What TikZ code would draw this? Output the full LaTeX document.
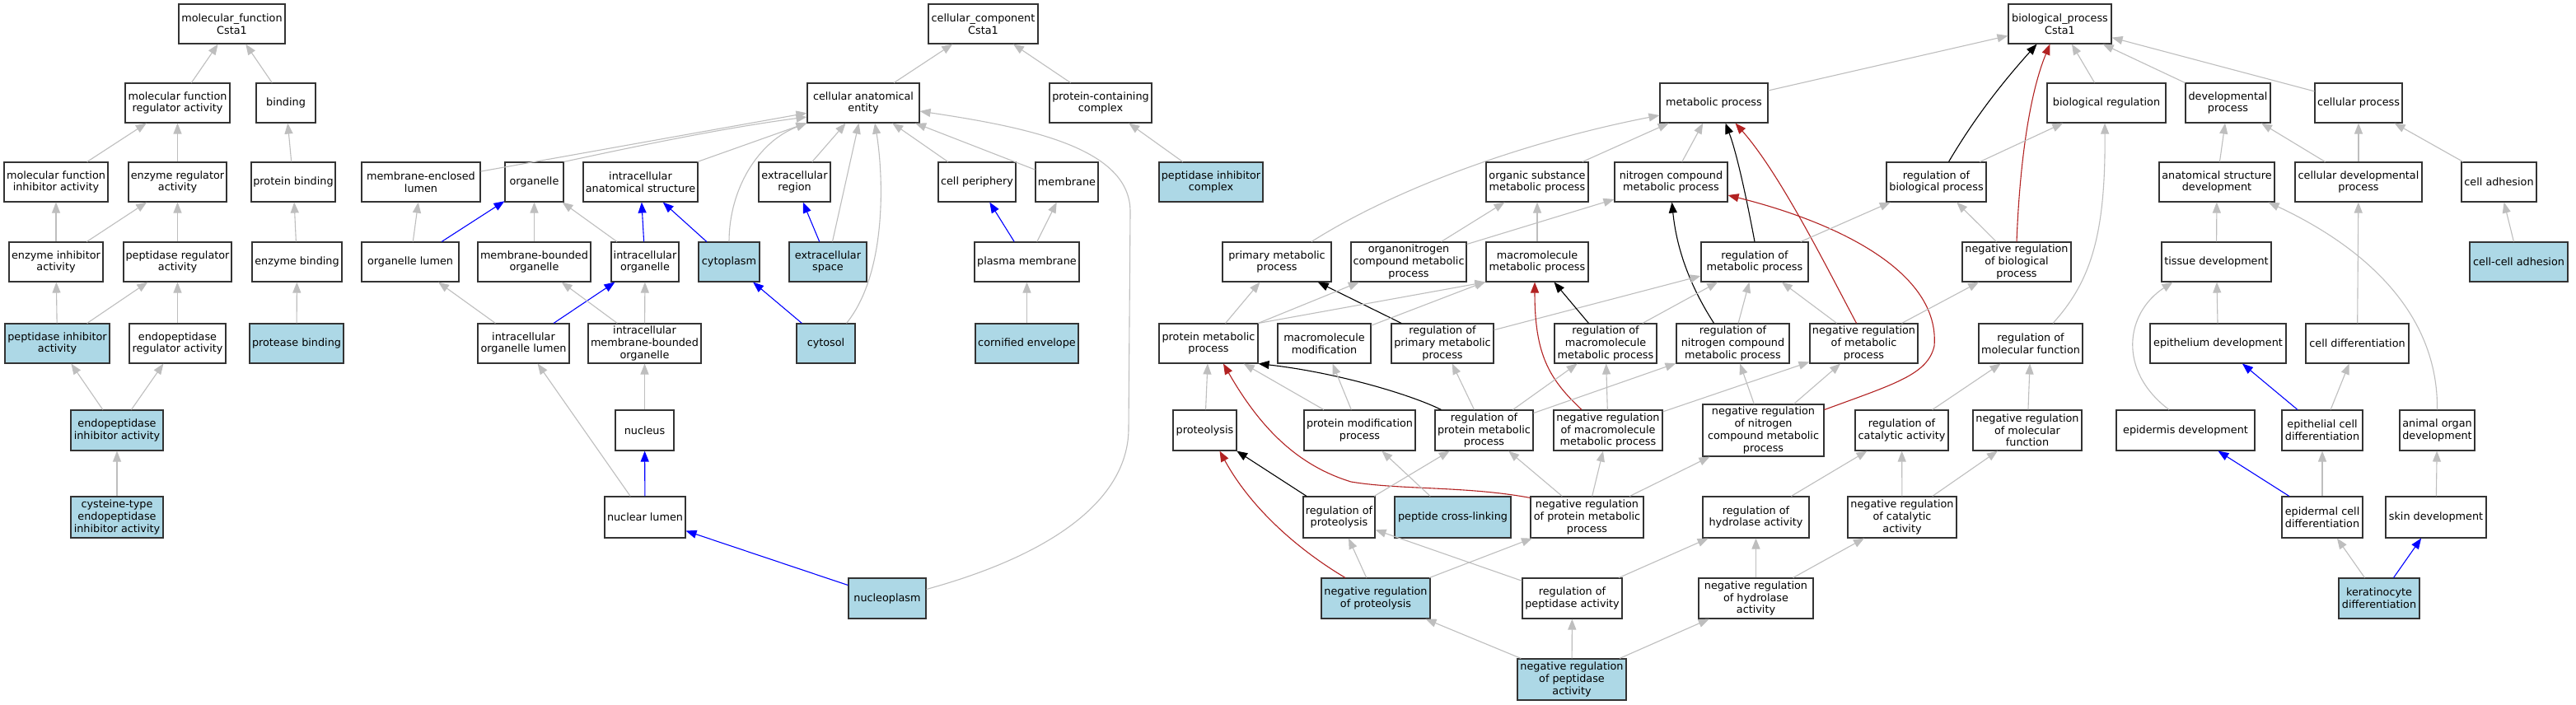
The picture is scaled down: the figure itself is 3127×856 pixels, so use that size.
\documentclass[tikz,border=0pt]{standalone}
\usepackage{fontspec}
\setmainfont{DejaVu Sans}
\usetikzlibrary{arrows.meta}
\definecolor{lightblue}{HTML}{ADD8E6}
\definecolor{edgegray}{HTML}{BEBEBE}
\definecolor{firebrick}{HTML}{B22222}
\newcommand\gofont{\fontsize{12.8}{14.7}\selectfont}
\newcommand\gn[7][]{\node[box,#1,minimum width={(#4-#3)*1pt},minimum height={(#6-#5)*1pt}] (#2) at ({(#3+#4)/2},{(#5+#6)/2}) {#7};}
\tikzset{
  box/.style={draw=black!80, line width=1.1pt, fill=white, inner sep=0pt, align=center, font=\gofont},
  hl/.style={fill=lightblue},
  ge/.style={draw=edgegray, line width=1.1pt, -{Triangle[length=13pt,width=10pt]}},
  bl/.style={ge, draw=blue},
  rd/.style={ge, draw=firebrick},
  bk/.style={ge, draw=black},
}
\begin{document}
\begin{tikzpicture}[x=1pt,y=-1pt]
\fill[white] (0,0) rectangle (3127,856);
\useasboundingbox (0,0) rectangle (3127,856);
% ---------- molecular function
\gn{mf}{217}{346}{5}{53}{molecular\_function\\Csta1}
\gn{mfra}{152}{279}{101}{149}{molecular function\\regulator activity}
\gn{binding}{311}{383}{101}{149}{binding}
\gn{mfia}{5}{131}{197}{245}{molecular function\\inhibitor activity}
\gn{era}{156}{275}{197}{245}{enzyme regulator\\activity}
\gn{pb}{305}{407}{197}{245}{protein binding}
\gn{eia}{11}{125}{294}{342}{enzyme inhibitor\\activity}
\gn{pra}{150}{281}{294}{342}{peptidase regulator\\activity}
\gn{eb}{306}{415}{294}{342}{enzyme binding}
\gn[hl]{pia}{6}{133}{393}{441}{peptidase inhibitor\\activity}
\gn{epra}{157}{274}{393}{441}{endopeptidase\\regulator activity}
\gn[hl]{protb}{303}{417}{393}{441}{protease binding}
\gn[hl]{epia}{86}{198}{498}{547}{endopeptidase\\inhibitor activity}
\gn[hl]{cepia}{86}{198}{603}{653}{cysteine-type\\endopeptidase\\inhibitor activity}
% ---------- cellular component
\gn{cc}{1127}{1260}{5}{53}{cellular\_component\\Csta1}
\gn{cae}{980}{1116}{101}{149}{cellular anatomical\\entity}
\gn{pcc}{1274}{1398}{101}{149}{protein-containing\\complex}
\gn{mel}{439}{583}{197}{245}{membrane-enclosed\\lumen}
\gn{organelle}{613}{684}{197}{245}{organelle}
\gn{ias}{708}{847}{197}{245}{intracellular\\anatomical structure}
\gn{er}{921}{1008}{197}{245}{extracellular\\region}
\gn{cellper}{1139}{1233}{197}{245}{cell periphery}
\gn{membrane}{1257}{1333}{197}{245}{membrane}
\gn[hl]{pic}{1407}{1533}{197}{245}{peptidase inhibitor\\complex}
\gn{ol}{439}{557}{294}{342}{organelle lumen}
\gn{mbo}{580}{717}{294}{342}{membrane-bounded\\organelle}
\gn{io}{742}{824}{294}{342}{intracellular\\organelle}
\gn[hl]{cytoplasm}{848}{922}{294}{342}{cytoplasm}
\gn[hl]{es}{958}{1052}{294}{342}{extracellular\\space}
\gn{pm}{1183}{1310}{294}{342}{plasma membrane}
\gn{iol}{580}{691}{393}{441}{intracellular\\organelle lumen}
\gn{imbo}{714}{851}{393}{441}{intracellular\\membrane-bounded\\organelle}
\gn[hl]{cytosol}{967}{1038}{393}{441}{cytosol}
\gn[hl]{ce}{1184}{1309}{393}{441}{cornified envelope}
\gn{nucleus}{747}{818}{498}{547}{nucleus}
\gn{nl}{734}{832}{603}{653}{nuclear lumen}
\gn[hl]{nucleoplasm}{1030}{1124}{702}{751}{nucleoplasm}
% ---------- biological process
\gn{bp}{2438}{2563}{5}{53}{biological\_process\\Csta1}
\gn{mp}{2015}{2146}{101}{149}{metabolic process}
\gn{breg}{2485}{2629}{101}{149}{biological regulation}
\gn{dp}{2653}{2756}{101}{149}{developmental\\process}
\gn{cellproc}{2810}{2916}{101}{149}{cellular process}
\gn{osmp}{1804}{1928}{197}{245}{organic substance\\metabolic process}
\gn{ncmp}{1960}{2097}{197}{245}{nitrogen compound\\metabolic process}
\gn{rbp}{2290}{2411}{197}{245}{regulation of\\biological process}
\gn{asd}{2621}{2761}{197}{245}{anatomical structure\\development}
\gn{cdp}{2786}{2940}{197}{245}{cellular developmental\\process}
\gn{ca}{2988}{3079}{197}{245}{cell adhesion}
\gn{pmp}{1484}{1616}{294}{342}{primary metabolic\\process}
\gn{ontmp}{1640}{1780}{294}{342}{organonitrogen\\compound metabolic\\process}
\gn{mmp}{1804}{1928}{294}{342}{macromolecule\\metabolic process}
\gn{rmp}{2065}{2195}{294}{342}{regulation of\\metabolic process}
\gn{nrbp}{2382}{2514}{294}{342}{negative regulation\\of biological\\process}
\gn{td}{2624}{2757}{294}{342}{tissue development}
\gn[hl]{cca}{2998}{3117}{294}{342}{cell-cell adhesion}
\gn{protmp}{1407}{1527}{393}{441}{protein metabolic\\process}
\gn{mm}{1551}{1664}{393}{441}{macromolecule\\modification}
\gn{rpmp}{1689}{1813}{393}{441}{regulation of\\primary metabolic\\process}
\gn{rmmp}{1887}{2011}{393}{441}{regulation of\\macromolecule\\metabolic process}
\gn{rncmp}{2035}{2172}{393}{441}{regulation of\\nitrogen compound\\metabolic process}
\gn{nrmp}{2197}{2328}{393}{441}{negative regulation\\of metabolic\\process}
\gn{rmf}{2402}{2528}{393}{441}{regulation of\\molecular function}
\gn{epd}{2610}{2775}{393}{441}{epithelium development}
\gn{cd}{2799}{2924}{393}{441}{cell differentiation}
\gn{proteolysis}{1424}{1501}{498}{547}{proteolysis}
\gn{pmodp}{1583}{1718}{498}{547}{protein modification\\process}
\gn{rprotmp}{1742}{1861}{498}{547}{regulation of\\protein metabolic\\process}
\gn{nrmmp}{1886}{2018}{498}{547}{negative regulation\\of macromolecule\\metabolic process}
\gn{nrncmp}{2067}{2214}{491}{554}{negative regulation\\of nitrogen\\compound metabolic\\process}
\gn{rca}{2252}{2365}{498}{547}{regulation of\\catalytic activity}
\gn{nrmf}{2395}{2527}{498}{547}{negative regulation\\of molecular\\function}
\gn{ed}{2569}{2737}{498}{547}{epidermis development}
\gn{ecd}{2770}{2868}{498}{547}{epithelial cell\\differentiation}
\gn{aod}{2913}{3004}{498}{547}{animal organ\\development}
\gn{rprot}{1582}{1669}{603}{653}{regulation of\\proteolysis}
\gn[hl]{pcl}{1693}{1834}{603}{653}{peptide cross-linking}
\gn{nrprotmp}{1858}{1995}{603}{653}{negative regulation\\of protein metabolic\\process}
\gn{rha}{2067}{2196}{603}{653}{regulation of\\hydrolase activity}
\gn{nrca}{2243}{2375}{603}{653}{negative regulation\\of catalytic\\activity}
\gn{epcd}{2770}{2868}{603}{653}{epidermal cell\\differentiation}
\gn{sd}{2896}{3018}{603}{653}{skin development}
\gn[hl]{nrprot}{1604}{1736}{702}{751}{negative regulation\\of proteolysis}
\gn{rpa}{1848}{1969}{702}{751}{regulation of\\peptidase activity}
\gn{nrha}{2062}{2201}{702}{751}{negative regulation\\of hydrolase\\activity}
\gn[hl]{kd}{2839}{2937}{702}{751}{keratinocyte\\differentiation}
\gn[hl]{nrpa}{1842}{1974}{800}{850}{negative regulation\\of peptidase\\activity}
% ---------- MF edges
\draw[ge] (mfra) -- (mf);
\draw[ge] (binding) -- (mf);
\draw[ge] (mfia) -- (mfra);
\draw[ge] (era) -- (mfra);
\draw[ge] (pb) -- (binding);
\draw[ge] (eia) -- (mfia);
\draw[ge] (eia) -- (era);
\draw[ge] (pra) -- (era);
\draw[ge] (eb) -- (pb);
\draw[ge] (pia) -- (eia);
\draw[ge] (pia) -- (pra);
\draw[ge] (epra) -- (pra);
\draw[ge] (protb) -- (eb);
\draw[ge] (epia) -- (pia);
\draw[ge] (epia) -- (epra);
\draw[ge] (cepia) -- (epia);
% ---------- CC edges
\draw[ge] (cae) -- (cc);
\draw[ge] (pcc) -- (cc);
\draw[ge] (mel) -- (cae);
\draw[ge] (organelle.north east) .. controls (770,178) and (880,155) .. ([yshift=-17pt]cae.west);
\draw[ge] (ias) -- (cae);
\draw[ge] (cytoplasm.north) .. controls (885,230) and (920,172) .. (cae.south west);
\draw[ge] (er) -- (cae);
\draw[ge] (es) -- (cae);
\draw[ge] ([xshift=-11pt]cytosol.north east) .. controls (1078,330) and (1072,210) .. ([xshift=14pt]cae.south);
\draw[ge] (cellper) -- (cae);
\draw[ge] (membrane) -- (cae);
\draw[ge] ([yshift=11pt]nucleoplasm.east) .. controls (1290,670) and (1370,600) .. (1370,520) -- (1372,257) .. controls (1372,180) and (1250,155) .. ([yshift=-10pt]cae.east);
\draw[ge] (pic) -- (pcc);
\draw[bl] (ol) -- (organelle);
\draw[ge] (ol) -- (mel);
\draw[ge] (mbo) -- (organelle);
\draw[ge] (io) -- (organelle);
\draw[bl] (io) -- (ias);
\draw[bl] (cytoplasm) -- (ias);
\draw[bl] (es) -- (er);
\draw[ge] (iol) -- (ol);
\draw[bl] (iol) -- (io);
\draw[ge] (imbo) -- (mbo);
\draw[ge] (imbo) -- (io);
\draw[bl] (cytosol) -- (cytoplasm);
\draw[ge] (nucleus) -- (imbo);
\draw[ge] (nl) -- (iol);
\draw[bl] (nl) -- (nucleus);
\draw[bl] (nucleoplasm) -- (nl);
\draw[bl] (pm) -- (cellper);
\draw[ge] (pm) -- (membrane);
\draw[ge] (ce) -- (pm);
% ---------- BP edges
\draw[ge] (mp) -- (bp);
\draw[ge] (breg) -- (bp);
\draw[ge] (dp) -- (bp);
\draw[ge] (cellproc) -- (bp);
\draw[bk] ([xshift=15pt]rbp.north) .. controls (2390,155) and (2420,112) .. ([xshift=-28pt]bp.south);
\draw[rd] (nrbp.north) .. controls (2452,190) and (2465,110) .. ([xshift=-12pt]bp.south);
\draw[ge] (osmp) -- (mp);
\draw[ge] (ncmp) -- (mp);
\draw[ge] ([xshift=42pt]pmp.north) .. controls (1700,225) and (1860,170) .. ([yshift=-15pt]mp.west);
\draw[bk] (rmp.north) .. controls (2120,240) and (2108,185) .. ([xshift=14pt]mp.south);
\draw[rd] ([xshift=-9pt]nrmp.north) .. controls (2215,320) and (2160,210) .. ([xshift=26pt]mp.south);
\draw[ge] (rbp) -- (breg);
\draw[ge] (nrbp) -- (rbp);
\draw[ge] ([xshift=27pt]rmf.north) .. controls (2540,340) and (2556,280) .. ([xshift=-2pt]breg.south);
\draw[ge] (ontmp) -- (osmp);
\draw[ge] (ontmp) -- (ncmp);
\draw[ge] (mmp) -- (osmp);
\draw[bk] ([xshift=-23pt]rncmp.north) .. controls (2050,345) and (2035,300) .. ([xshift=1pt]ncmp.south);
\draw[rd] ([yshift=25pt]nrncmp.east) .. controls (2300,466) and (2340,455) .. (2348,420) .. controls (2355,330) and (2230,270) .. ([yshift=-16pt]ncmp.east);
\draw[ge] (rmp) -- (rbp);
\draw[ge] (nrmp) -- (nrbp);
\draw[ge] (nrmp) -- (rmp);
\draw[ge] (rncmp) -- (rmp);
\draw[ge] (rmmp) -- (rmp);
\draw[ge] (rpmp) -- (rmp);
\draw[bk] (rpmp) -- (pmp);
\draw[bk] (rmmp) -- (mmp);
\draw[rd] ([xshift=-32pt]nrmmp.north) .. controls (1880,460) and (1863,430) .. ([xshift=-3pt]mmp.south);
\draw[ge] (protmp) -- (pmp);
\draw[ge] (protmp) -- (ontmp);
\draw[ge] (protmp.north east) -- (mmp.south west);
\draw[ge] (mm) -- (mmp);
\draw[bk] ([xshift=8pt]rprotmp.north west) .. controls (1710,478) and (1620,452) .. (protmp.south east);
\draw[ge] (rprotmp) -- (rpmp);
\draw[ge] (rprotmp) -- (rmmp);
\draw[ge] (rprotmp) -- (rncmp);
\draw[ge] (nrmmp) -- (rmmp);
\draw[ge] (nrmmp) -- (nrmp);
\draw[ge] (proteolysis) -- (protmp);
\draw[rd] ([yshift=-2pt]nrprotmp.north west) .. controls (1780,590) and (1700,595) .. (1640,585) .. controls (1575,565) and (1530,520) .. ([xshift=18pt]protmp.south);
\draw[bk] (rprot) -- (proteolysis);
\draw[rd] ([xshift=-37pt]nrprot.north) .. controls (1580,670) and (1520,620) .. ([xshift=18pt]proteolysis.south);
\draw[ge] (rprot) -- (rprotmp);
\draw[ge] (pcl) -- (pmodp);
\draw[ge] (pmodp) -- (mm);
\draw[ge] (pmodp) -- (protmp);
\draw[ge] (nrprotmp) -- (rprotmp);
\draw[ge] (nrprotmp) -- (nrmmp);
\draw[ge] (nrprotmp) -- (nrncmp);
\draw[ge] (nrprot) -- (rprot);
\draw[ge] (nrprot) -- (nrprotmp);
\draw[ge] (rpa) -- (rprot);
\draw[ge] (rpa) -- (rha);
\draw[ge] (nrpa) -- (nrprot);
\draw[ge] (nrpa) -- (rpa);
\draw[ge] (nrpa) -- (nrha);
\draw[ge] (nrncmp) -- (rncmp);
\draw[ge] (nrncmp) -- (nrmp);
\draw[ge] (rha) -- (rca);
\draw[ge] (nrha) -- (rha);
\draw[ge] (nrha) -- (nrca);
\draw[ge] (nrca) -- (rca);
\draw[ge] (nrca) -- (nrmf);
\draw[ge] (rca) -- (rmf);
\draw[ge] (nrmf) -- (rmf);
% ---------- development edges
\draw[ge] (asd) -- (dp);
\draw[ge] (cdp) -- (dp);
\draw[ge] (cdp) -- (cellproc);
\draw[ge] (ca) -- (cellproc);
\draw[ge] (td) -- (asd);
\draw[ge] (aod.north) .. controls (2960,380) and (2870,300) .. ([xshift=-8pt]asd.south east);
\draw[ge] (cd) -- (cdp);
\draw[ge] (cca) -- (ca);
\draw[ge] ([xshift=-20pt]ed.north) .. controls (2570,450) and (2580,380) .. ([xshift=-53pt]td.south);
\draw[ge] (epd) -- (td);
\draw[bl] (ecd) -- (epd);
\draw[ge] (ecd) -- (cd);
\draw[bl] (epcd) -- (ed);
\draw[ge] (epcd) -- (ecd);
\draw[ge] (sd) -- (aod);
\draw[ge] (kd) -- (epcd);
\draw[bl] (kd) -- (sd);
\end{tikzpicture}
\end{document}
